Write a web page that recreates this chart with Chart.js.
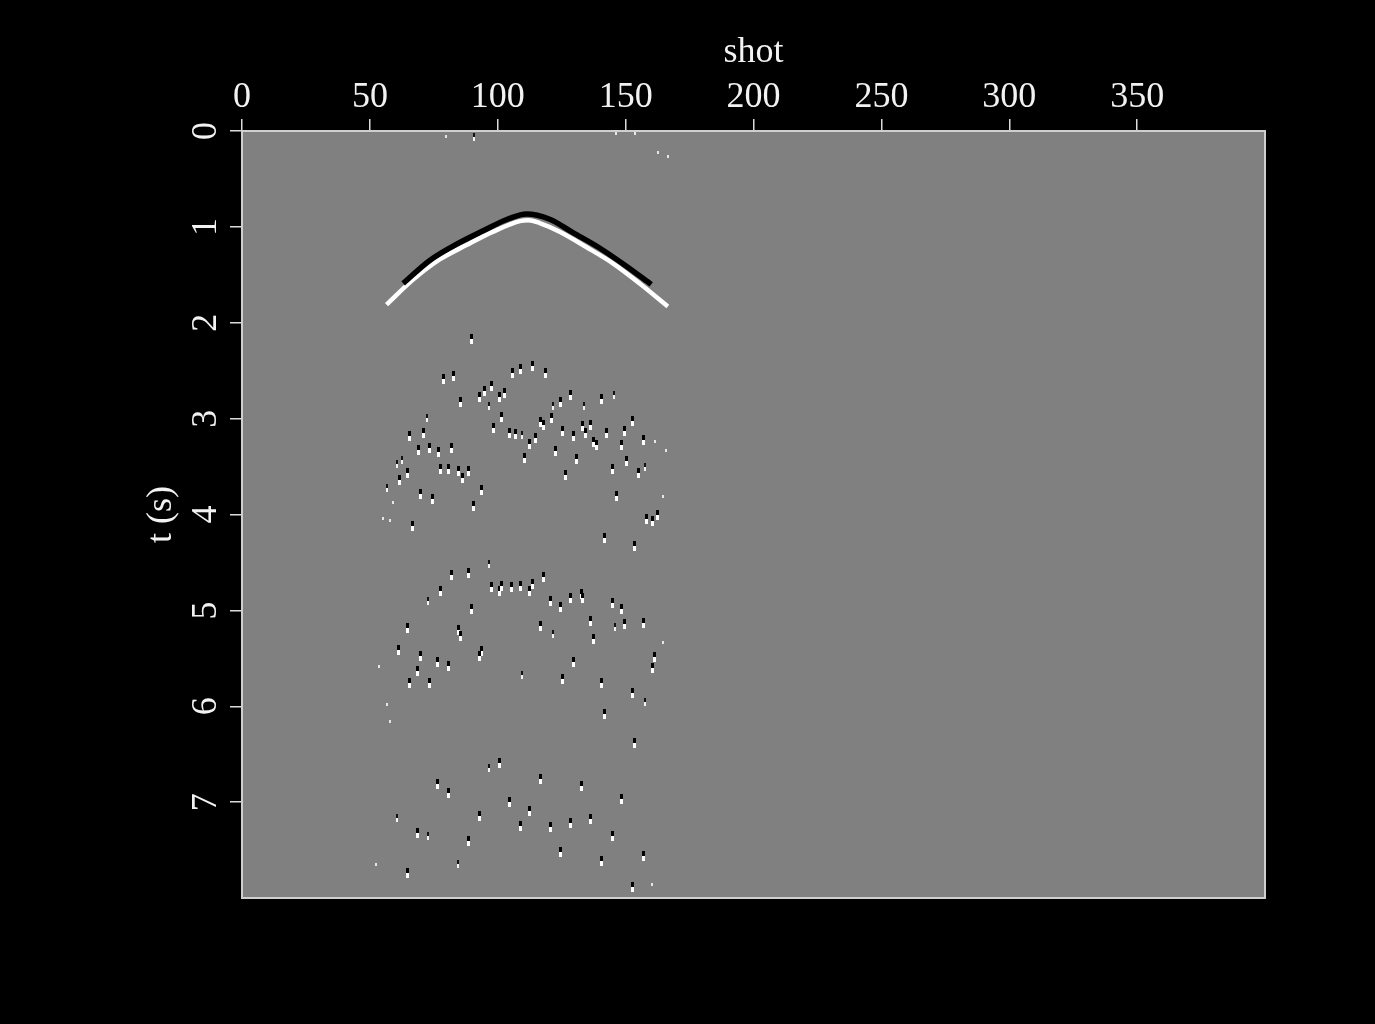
<!DOCTYPE html>
<html>
<head>
<meta charset="utf-8">
<title>shot gather</title>
<script src="https://cdn.jsdelivr.net/npm/chart.js@4.4.1/dist/chart.umd.min.js"></script>
<style>
  html, body { margin: 0; padding: 0; background: #000; }
  #wrap { width: 1375px; height: 1024px; }
</style>
</head>
<body>
<div id="wrap"><canvas id="section" width="1375" height="1024"></canvas></div>
<script>
// axis ticks
const shotTicks = [0, 50, 100, 150, 200, 250, 300, 350];
const timeTicks = [0, 1, 2, 3, 4, 5, 6, 7];

const blackShot = [63.0, 73.4, 83.9, 94.3, 104.7, 111.2, 120.3, 129.4, 139.8, 150.3, 160.0];
const blackTime = [1.59, 1.35, 1.18, 1.04, 0.91, 0.865, 0.92, 1.06, 1.22, 1.41, 1.60];
const whiteShot = [56.5, 66.9, 77.3, 87.8, 98.2, 108.6, 112.0, 116.4, 124.2, 134.6, 145.0, 155.5, 166.5];
const whiteTime = [1.81, 1.55, 1.34, 1.19, 1.05, 0.94, 0.93, 0.96, 1.05, 1.21, 1.38, 1.59, 1.83];

// scattered events (strong)
const strongShot = [
  89.7, 78.6, 82.8, 85.4, 65.6, 70.8, 68.9, 73.4, 76.7, 81.8, 64.6, 61.4, 77.6, 80.7, 84.6, 86.4,
  88.6, 69.8, 74.5, 93.8, 90.6, 66.7, 93.0, 94.9, 97.5, 100.5, 102.7, 105.7, 108.9, 113.6, 118.8, 101.6,
  98.4, 104.7, 106.8, 112.5, 114.6, 110.3, 116.7, 117.7, 121.0, 124.5, 128.6, 125.5, 122.4, 129.7, 126.6, 130.7,
  133.1, 134.4, 136.4, 137.5, 138.6, 140.6, 142.7, 148.4, 149.5, 152.6, 144.8, 150.5, 155.0, 156.8, 146.4, 162.6,
  158.3, 160.4, 141.7, 153.6,
  81.8, 88.6, 77.6, 97.4, 100.8, 101.6, 105.2, 108.9, 112.5, 113.6, 117.7, 120.8, 124.5, 128.6, 132.8, 133.3,
  144.8, 148.4, 89.6, 64.6, 84.6, 85.4, 116.7, 136.4, 137.5, 149.5, 156.8, 61.2, 69.8, 93.8, 92.7, 76.6,
  80.7, 68.8, 65.6, 73.4, 129.7, 125.5, 140.6, 161.4, 160.4, 152.6, 141.7,
  153.6, 100.5, 76.6, 80.7, 116.7, 132.8, 148.4, 104.7, 112.5, 92.7, 108.9, 120.8, 128.6, 136.4, 68.8, 88.6,
  144.8, 124.5, 140.6, 156.8, 64.6, 152.6
];
const strongTime = [
  2.17, 2.59, 2.56, 2.83, 3.18, 3.15, 3.33, 3.31, 3.35, 3.31, 3.57, 3.64, 3.53, 3.53, 3.55, 3.62,
  3.55, 3.79, 3.84, 3.74, 3.91, 4.12, 2.77, 2.71, 2.66, 2.77, 2.73, 2.52, 2.48, 2.45, 2.52, 2.98,
  3.10, 3.15, 3.16, 3.26, 3.20, 3.41, 3.03, 3.07, 2.99, 2.83, 2.75, 3.13, 3.34, 3.18, 3.59, 3.42,
  3.08, 3.15, 3.07, 3.24, 3.28, 2.80, 3.15, 3.28, 3.13, 3.02, 3.53, 3.44, 3.57, 3.22, 3.81, 4.00,
  4.05, 4.07, 4.24, 4.33,
  4.63, 4.61, 4.80, 4.76, 4.80, 4.75, 4.76, 4.75, 4.80, 4.73, 4.65, 4.90, 4.96, 4.87, 4.83, 4.87,
  4.92, 4.99, 4.99, 5.18, 5.20, 5.27, 5.16, 5.11, 5.30, 5.14, 5.13, 5.41, 5.48, 5.42, 5.48, 5.54,
  5.58, 5.63, 5.76, 5.76, 5.54, 5.72, 5.76, 5.49, 5.60, 5.86, 6.08,
  6.38, 6.59, 6.81, 6.90, 6.76, 6.83, 6.97, 7.00, 7.09, 7.14, 7.25, 7.26, 7.22, 7.18, 7.32, 7.41,
  7.35, 7.52, 7.61, 7.56, 7.74, 7.89
];

// weaker, thinner events
const thinShot = [72.4, 96.6, 109.6, 121.6, 133.6, 145.6, 157.5, 62.4, 60.7, 56.8, 90.6,
  96.6, 72.7, 121.6, 145.8, 109.6, 157.5, 96.6, 60.7, 72.7, 84.6];
const thinTime = [2.99, 2.87, 3.17, 2.87, 2.87, 2.75, 3.50, 3.43, 3.47, 3.72, 0.06,
  4.52, 4.90, 5.25, 5.17, 5.67, 5.96, 6.64, 7.17, 7.35, 7.65];

// faint specks
const faintShot = [58.9, 55.0, 57.8, 161.4, 165.6, 164.6, 53.6, 164.6, 56.8, 57.8, 52.3, 160.4,
  79.7, 146.4, 153.6, 162.5, 166.7];
const faintTime = [3.87, 4.04, 4.06, 3.24, 3.33, 3.81, 5.59, 5.34, 5.98, 6.16, 7.65, 7.86,
  0.06, 0.03, 0.03, 0.22, 0.27];

function toPoints(xs, ys) {
  return xs.map((x, i) => ({ x: x, y: ys[i] }));
}

// small wavelet glyph: dark lobe over bright lobe
function makeWavelet(w, hTop, hBottom, top, bottom) {
  const c = document.createElement('canvas');
  c.width = w;
  c.height = hTop + hBottom;
  const g = c.getContext('2d');
  if (hTop > 0) {
    g.fillStyle = top;
    g.fillRect(0, 0, w, hTop);
  }
  g.fillStyle = bottom;
  g.fillRect(0, hTop, w, hBottom);
  return c;
}

const strongGlyph = makeWavelet(3, 5, 5, '#000', '#fff');
const thinGlyph = makeWavelet(2, 4, 4, '#111', '#f4f4f4');
const faintGlyph = makeWavelet(2, 0, 3, '#000', '#e6e6e6');

const axisFont = { family: 'Liberation Serif', size: 36 };
const textColor = '#f2f2f2';

const sectionBackground = {
  id: 'sectionBackground',
  beforeDraw(chart) {
    const { ctx, chartArea: a, width, height } = chart;
    ctx.save();
    ctx.fillStyle = '#000';
    ctx.fillRect(0, 0, width, height);
    ctx.fillStyle = '#808080';
    ctx.fillRect(a.left, a.top, a.right - a.left, a.bottom - a.top);
    ctx.restore();
  },
  beforeDatasetsDraw(chart) {
    chart.ctx.imageSmoothingEnabled = false;
  },
  afterDatasetsDraw(chart) {
    const { ctx, chartArea: a } = chart;
    ctx.save();
    ctx.strokeStyle = '#cfcfcf';
    ctx.lineWidth = 2;
    ctx.strokeRect(a.left, a.top, a.right - a.left, a.bottom - a.top);
    ctx.restore();
  }
};

new Chart(document.getElementById('section'), {
  type: 'scatter',
  data: {
    datasets: [
      {
        label: 'strong',
        data: toPoints(strongShot, strongTime),
        pointStyle: strongGlyph,
        pointRadius: 5
      },
      {
        label: 'thin',
        data: toPoints(thinShot, thinTime),
        pointStyle: thinGlyph,
        pointRadius: 4
      },
      {
        label: 'faint',
        data: toPoints(faintShot, faintTime),
        pointStyle: faintGlyph,
        pointRadius: 2
      },
      {
        label: 'direct black',
        data: toPoints(blackShot, blackTime),
        showLine: true,
        borderColor: '#000',
        borderWidth: 5.5,
        pointRadius: 0,
        cubicInterpolationMode: 'monotone'
      },
      {
        label: 'direct white',
        data: toPoints(whiteShot, whiteTime),
        showLine: true,
        borderColor: '#fff',
        borderWidth: 4.5,
        pointRadius: 0,
        cubicInterpolationMode: 'monotone'
      }
    ]
  },
  options: {
    responsive: false,
    animation: false,
    layout: { padding: { left: 0, top: 0, right: 110, bottom: 126 } },
    plugins: {
      legend: { display: false },
      tooltip: { enabled: false }
    },
    scales: {
      x: {
        type: 'linear',
        position: 'top',
        min: 0,
        max: 400,
        afterBuildTicks: s => { s.ticks = shotTicks.map(v => ({ value: v })); },
        afterFit: s => { s.height = 131; },
        grid: { drawOnChartArea: false, tickLength: 12, color: '#dcdcdc', lineWidth: 1.5 },
        border: { display: false },
        ticks: { color: textColor, font: axisFont, padding: 0, maxRotation: 0, autoSkip: false },
        title: { display: true, text: 'shot', color: textColor, font: axisFont, padding: { top: 31, bottom: 0 } }
      },
      y: {
        type: 'linear',
        reverse: true,
        min: 0,
        max: 8,
        afterBuildTicks: s => { s.ticks = timeTicks.map(v => ({ value: v })); },
        afterFit: s => { s.width = 242; },
        grid: { drawOnChartArea: false, tickLength: 12, color: '#dcdcdc', lineWidth: 1.5 },
        border: { display: false },
        ticks: { color: textColor, font: axisFont, padding: 14, minRotation: 90, maxRotation: 90, crossAlign: 'center', autoSkip: false },
        title: { display: true, text: 't (s)', color: textColor, font: axisFont, padding: { top: 140, bottom: 0 } }
      }
    }
  },
  plugins: [sectionBackground]
});
</script>
</body>
</html>
